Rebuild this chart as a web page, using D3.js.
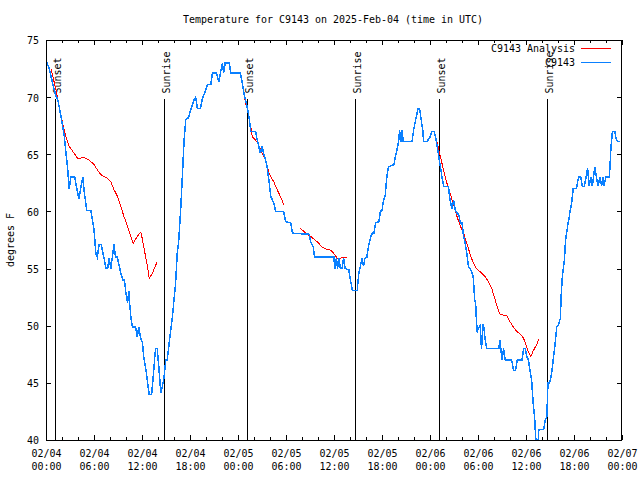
<!DOCTYPE html>
<html>
<head>
<meta charset="utf-8">
<script src="https://cdn.jsdelivr.net/npm/d3@7"></script>
<style>
  html, body { margin: 0; padding: 0; background: #fff; }
  svg { display: block; }
  text { font-family: "DejaVu Sans Mono", "Liberation Mono", monospace; fill: #000; }
</style>
</head>
<body>
<div id="chart"></div>
<script>
// ---------------- DATA ----------------
const titleText = "Temperature for C9143 on 2025-Feb-04 (time in UTC)";
const yLabel = "degrees F";
const seriesNames = ["C9143 Analysis", "C9143"];
const startUTC = Date.UTC(2025, 1, 4, 0, 0);   // 2025-02-04 00:00 UTC
const spanHours = 72;
const yTicks = [40, 45, 50, 55, 60, 65, 70, 75];
const majorTickHours = [0, 6, 12, 18, 24, 30, 36, 42, 48, 54, 60, 66, 72];
const minorTickHours = [2, 4, 8, 10, 14, 16, 20, 22, 26, 28, 32, 34, 38, 40, 44, 46, 50, 52, 56, 58, 62, 64, 68, 70];

// Sunrise / Sunset events (hours after start)
const eventNames = ["Sunset", "Sunrise", "Sunset", "Sunrise", "Sunset", "Sunrise"];
const eventHours = [1.16, 14.79, 25.16, 38.66, 49.16, 62.66];
const eventTopTemp = 69.8;

// Observed (C9143) – hours after start
const obsHours = [0.0,0.4,0.8,1.2,1.5,1.9,2.3,2.5,2.7,2.9,3.1,3.6,3.8,4.1,4.6,4.8,5.1,5.6,6.0,6.24,6.4,6.65,6.9,7.3,7.5,7.7,7.9,8.1,8.5,8.7,8.9,9.36,9.6,9.8,10.0,10.2,10.35,10.45,10.6,10.8,11.2,11.4,11.6,11.8,12.07,12.2,12.5,12.7,12.9,13.2,13.4,13.6,13.7,13.9,14.1,14.35,14.55,14.76,14.97,15.15,15.4,15.8,16.2,16.4,16.6,16.85,17.06,17.26,17.47,17.8,18.1,18.5,18.7,18.93,19.3,19.55,19.8,20.2,20.6,20.8,21.3,21.6,21.8,22.05,22.2,22.4,22.9,23.1,24.3,24.5,24.75,25.0,25.2,25.4,25.6,26.2,26.4,26.8,27.0,27.2,27.45,27.66,27.9,28.1,28.3,28.5,28.7,29.7,29.95,30.6,30.8,32.9,33.07,33.4,33.57,35.98,36.1,36.3,36.45,36.6,36.8,37.0,37.2,37.4,37.85,38.06,38.3,38.5,38.9,39.1,39.3,39.5,39.7,39.85,40.1,40.3,40.6,40.8,41.0,41.2,41.6,41.8,42.0,42.2,42.4,42.6,42.8,43.5,43.7,43.9,44.1,44.2,44.35,44.5,44.65,44.9,45.75,45.95,46.2,46.5,46.7,46.9,47.1,47.2,47.6,48.0,48.25,48.5,48.7,48.9,49.1,49.3,49.5,49.7,50.3,50.5,50.75,50.95,51.2,51.6,51.8,52.0,52.2,52.4,52.6,52.8,53.0,53.2,53.4,53.6,53.7,53.8,53.9,54.1,54.3,54.35,54.45,54.6,54.75,54.9,55.1,56.6,56.75,56.85,57.0,57.2,57.4,58.2,58.45,58.7,58.9,59.5,59.7,59.9,60.1,60.3,60.5,60.7,60.9,61.1,61.2,61.3,61.5,61.6,62.2,62.4,62.6,62.75,62.95,63.2,63.4,63.6,63.85,64.05,64.3,64.4,64.55,64.7,64.8,64.95,65.2,65.4,65.5,65.7,65.9,66.3,66.5,66.6,66.85,67.05,67.3,67.5,67.7,67.9,68.1,68.3,68.6,68.8,69.0,69.25,69.45,69.6,69.7,70.0,70.4,70.5,70.6,70.8,71.1,71.3,71.5,71.7];
const obsTemps = [73.2,72.5,71.3,70.2,69.7,68.2,66.5,65.1,63.8,62.0,63.0,63.0,62.2,61.1,63.0,61.6,60.1,60.1,58.4,56.3,56.0,57.1,57.1,55.75,55.0,55.0,55.9,55.0,57.1,56.0,56.0,54.6,54.0,54.0,52.8,52.0,53.0,52.0,50.8,49.9,49.9,49.0,49.9,49.0,48.5,47.3,46.1,45.0,44.0,44.0,45.5,47.3,48.0,48.0,46.4,44.1,44.7,45.5,47.0,47.0,48.5,50.8,53.7,56.3,57.5,60.4,63.3,66.25,68.0,68.2,68.9,69.75,70.0,69.0,69.0,69.9,70.3,71.1,71.1,72.1,72.1,71.35,72.1,73.0,72.1,73.0,73.0,72.1,72.1,71.35,70.3,69.6,68.9,68.15,67.0,67.0,66.25,65.1,65.7,65.1,64.5,63.8,62.5,61.3,61.0,60.7,60.0,60.0,59.1,59.0,58.1,58.0,57.35,56.9,56.0,56.0,55.0,55.9,55.0,55.9,55.0,55.0,55.9,55.0,54.9,54.0,53.1,53.1,53.1,54.6,55.2,55.9,55.2,55.9,56.0,56.9,57.8,58.1,58.1,59.0,59.1,60.0,60.1,61.0,61.4,63.0,63.9,64.1,64.9,65.5,66.25,67.1,66.1,67.1,66.1,66.1,66.1,67.1,68.0,69.0,69.0,68.0,67.1,66.1,66.1,66.5,67.0,67.0,66.5,65.7,64.8,63.9,63.0,62.2,62.2,61.0,60.2,61.0,60.0,59.7,59.0,59.0,57.8,57.2,56.3,55.2,55.0,54.7,54.3,52.2,52.0,50.5,49.5,49.8,50.1,48.75,48.0,50.1,49.8,48.75,48.0,48.0,48.75,48.0,47.0,48.0,47.0,47.0,46.1,46.1,47.0,47.0,48.0,48.0,47.3,47.0,46.1,45.25,43.2,41.75,40.3,39.7,39.7,40.9,40.9,41.75,42.0,45.0,45.0,45.8,47.0,48.2,49.9,50.1,50.65,52.7,54.3,55.2,55.75,57.5,58.7,59.5,60.0,60.7,62.0,62.0,62.75,63.0,63.0,62.2,62.2,63.0,63.8,62.2,63.0,62.2,63.9,63.0,62.2,63.0,62.2,63.0,62.2,63.0,63.0,63.9,65.4,67.0,67.0,66.25,66.1,66.1];

// Analysis (C9143 Analysis) – null marks a gap
const anaHours = [0.6,0.83,1.25,1.66,2.08,2.5,2.9,3.5,3.95,4.8,5.4,6.0,6.45,6.9,7.7,8.1,8.5,8.95,9.36,9.77,10.2,10.6,10.9,11.4,11.85,12.07,12.3,12.6,12.8,12.9,13.3,13.9,
  14.0,
  24.85,25.0,25.2,25.4,25.6,25.8,26.2,26.6,27.0,27.45,27.66,27.9,28.3,28.5,28.7,29.1,29.3,29.75,
  30.0,
  31.8,32.4,33.1,33.9,34.5,35.0,35.6,36.0,36.4,36.8,37.2,37.6,
  38.0,
  48.6,48.9,49.3,49.7,50.1,50.5,50.9,51.4,51.8,52.2,52.6,53.0,53.4,53.8,54.3,54.9,55.3,55.7,56.15,56.6,56.8,57.6,58.0,58.4,58.85,59.3,59.7,60.0,60.3,60.6,60.9,61.3,61.6];
const anaTemps = [72.5,71.9,70.6,69.2,67.7,66.5,65.7,65.1,64.65,64.7,64.5,64.1,63.6,63.2,62.9,62.6,61.9,61.3,60.4,59.5,58.7,57.8,57.2,57.8,58.2,57.5,56.6,55.5,54.7,54.15,54.6,55.6,
  null,
  69.8,69.3,68.9,68.15,67.4,66.5,66.25,65.8,65.1,64.5,63.9,63.3,62.75,62.6,62.2,61.6,61.3,60.55,
  null,
  58.5,58.15,57.8,57.35,56.9,56.7,56.6,56.3,55.9,55.9,56.0,56.0,
  null,
  66.8,66.0,64.8,63.6,62.5,61.6,60.7,59.5,58.7,58.1,57.2,56.3,55.5,55.0,54.7,54.3,53.85,53.3,52.25,51.2,51.0,50.85,50.35,49.9,49.5,49.25,48.9,48.3,47.7,47.3,47.8,48.3,48.8];

const colors = { analysis: "#ff0000", obs: "#0a80ff" };

// ---------------- CHART ----------------
const W = 640, H = 480;
const plot = { left: 46, right: 622, top: 40, bottom: 440 };
const CW = 6; // monospace cell width

const hr = h => new Date(startUTC + h * 3600e3);
const x = d3.scaleUtc().domain([hr(0), hr(spanHours)]).range([plot.left, plot.right]);
const y = d3.scaleLinear().domain([40, 75]).range([plot.bottom, plot.top]);

const svg = d3.select("#chart").append("svg")
  .attr("width", W).attr("height", H)
  .attr("viewBox", `0 0 ${W} ${H}`);
svg.append("rect").attr("width", W).attr("height", H).attr("fill", "#fff");

function fitText(sel) {
  sel.each(function() {
    const t = d3.select(this);
    const s = t.text();
    if (s.length) t.attr("textLength", s.length * CW).attr("lengthAdjust", "spacingAndGlyphs");
  });
}

// Title
svg.append("text").attr("x", 333).attr("y", 23).attr("text-anchor", "middle")
  .style("font-size", "11px").text(titleText).call(fitText);

// Y label
svg.append("text").attr("transform", "translate(14,240) rotate(-90)")
  .attr("text-anchor", "middle").style("font-size", "11px").text(yLabel).call(fitText);

const fmtD = d3.utcFormat("%m/%d"), fmtT = d3.utcFormat("%H:%M");

// Axes: bottom with labels
const gB = svg.append("g").attr("transform", `translate(0,${plot.bottom})`)
  .call(d3.axisBottom(x).tickValues(majorTickHours.map(hr)).tickSizeInner(-5).tickSizeOuter(0)
    .tickPadding(9).tickFormat(d => fmtD(d)));
gB.selectAll(".tick text").each(function(d) {
  const t = d3.select(this);
  t.text(null).attr("dy", null).attr("y", null);
  t.append("tspan").attr("x", 0).attr("y", 17).text(fmtD(d)).call(fitText);
  t.append("tspan").attr("x", 0).attr("y", 30).text(fmtT(d)).call(fitText);
});
svg.append("g").attr("transform", `translate(0,${plot.bottom})`)
  .call(d3.axisBottom(x).tickValues(minorTickHours.map(hr)).tickSizeInner(-3).tickSizeOuter(0).tickFormat(""));
svg.append("g").attr("transform", `translate(0,${plot.top})`)
  .call(d3.axisTop(x).tickValues(majorTickHours.map(hr)).tickSizeInner(-5).tickSizeOuter(0).tickFormat(""));
svg.append("g").attr("transform", `translate(0,${plot.top})`)
  .call(d3.axisTop(x).tickValues(minorTickHours.map(hr)).tickSizeInner(-3).tickSizeOuter(0).tickFormat(""));

// Left / right
const gL = svg.append("g").attr("transform", `translate(${plot.left},0)`)
  .call(d3.axisLeft(y).tickValues(yTicks).tickSizeInner(-5).tickSizeOuter(0).tickPadding(7).tickFormat(d3.format("d")));
gL.selectAll(".tick text").attr("dy", "0.36em").call(fitText);
svg.append("g").attr("transform", `translate(${plot.right},0)`)
  .call(d3.axisRight(y).tickValues(yTicks).tickSizeInner(-5).tickSizeOuter(0).tickFormat(""));

svg.selectAll(".domain").remove();
svg.selectAll(".tick line").attr("stroke", "#000").attr("shape-rendering", "crispEdges");
svg.selectAll(".tick text").style("font-size", "11px").attr("font-family", null);

// Clip
svg.append("clipPath").attr("id", "clip").append("rect")
  .attr("x", plot.left).attr("y", plot.top)
  .attr("width", plot.right - plot.left).attr("height", plot.bottom - plot.top);

// Event lines
const events = eventHours.map((h, i) => ({ t: hr(h), name: eventNames[i] }));
const gE = svg.append("g");
gE.selectAll("line").data(events).join("line")
  .attr("x1", d => Math.round(x(d.t)) + 0.5).attr("x2", d => Math.round(x(d.t)) + 0.5)
  .attr("y1", y(eventTopTemp)).attr("y2", plot.bottom)
  .attr("stroke", "#000").attr("stroke-width", 1).attr("shape-rendering", "crispEdges");
gE.selectAll("text").data(events).join("text")
  .attr("transform", d => `translate(${Math.round(x(d.t)) + 5.5},${y(eventTopTemp) - 6}) rotate(-90)`)
  .style("font-size", "11px").text(d => d.name).call(fitText);

// Lines
const gLines = svg.append("g").attr("clip-path", "url(#clip)");
const obs = obsHours.map((h, i) => ({ t: hr(h), v: obsTemps[i] }));
const ana = anaHours.map((h, i) => ({ t: hr(h), v: anaTemps[i] }));
const line = d3.line().defined(d => d.v != null).x(d => x(d.t)).y(d => y(d.v));

gLines.append("path").datum(ana).attr("d", line)
  .attr("fill", "none").attr("stroke", colors.analysis).attr("stroke-width", 1)
  .attr("shape-rendering", "crispEdges");
gLines.append("path").datum(obs).attr("d", line)
  .attr("fill", "none").attr("stroke", colors.obs).attr("stroke-width", 1.5)
  .attr("shape-rendering", "crispEdges");

// Frame
svg.append("rect").attr("x", plot.left + 0.5).attr("y", plot.top + 0.5)
  .attr("width", plot.right - plot.left - 1).attr("height", plot.bottom - plot.top)
  .attr("fill", "none").attr("stroke", "#000").attr("shape-rendering", "crispEdges");

// Legend
const legend = svg.append("g");
const legRows = [{ name: seriesNames[0], c: colors.analysis, yy: 48 }, { name: seriesNames[1], c: colors.obs, yy: 62 }];
legRows.forEach(r => {
  legend.append("text").attr("x", 575).attr("y", r.yy + 4).attr("text-anchor", "end")
    .style("font-size", "11px").text(r.name).call(fitText);
  legend.append("line").attr("x1", 581).attr("x2", 611).attr("y1", r.yy + 0.5).attr("y2", r.yy + 0.5)
    .attr("stroke", r.c).attr("stroke-width", 1).attr("shape-rendering", "crispEdges");
});
</script>
</body>
</html>
